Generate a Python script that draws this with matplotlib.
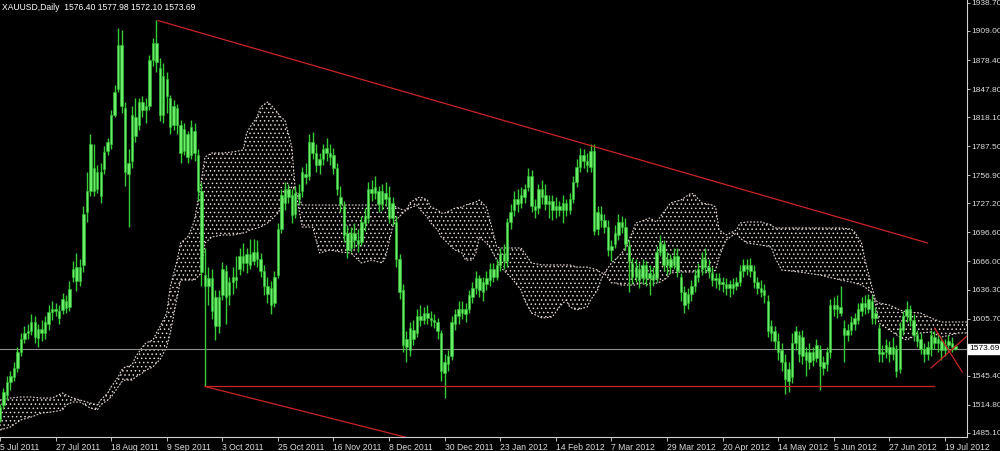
import matplotlib
matplotlib.use("Agg")
import matplotlib.pyplot as plt
import numpy as np

plt.rcParams["font.family"] = ["Liberation Sans", "DejaVu Sans"]
plt.rcParams["hatch.color"] = "#eadbd5"
plt.rcParams["hatch.linewidth"] = 0.55

symbol_title = "XAUUSD,Daily  1576.40 1577.98 1572.10 1573.69"
last_price = 1573.69

# x labels every 16 daily bars (MT4 style)
date_labels = ["5 Jul 2011", "27 Jul 2011", "18 Aug 2011", "9 Sep 2011", "3 Oct 2011",
               "25 Oct 2011", "16 Nov 2011", "8 Dec 2011", "30 Dec 2011", "23 Jan 2012",
               "14 Feb 2012", "7 Mar 2012", "29 Mar 2012", "20 Apr 2012", "14 May 2012",
               "5 Jun 2012", "27 Jun 2012", "19 Jul 2012"]
price_ticks = [1938.70, 1909.00, 1878.40, 1847.80, 1818.10, 1787.50, 1756.90, 1727.20,
               1696.60, 1666.00, 1636.30, 1605.70, 1545.40, 1514.80, 1485.10]

# daily OHLC, 5 Jul 2011 .. 24 Jul 2012
opens = [
    1500, 1514, 1525, 1539, 1544, 1553, 1570, 1584, 1590, 1592,
    1602, 1585, 1595, 1590, 1600, 1613, 1616, 1614, 1615, 1624,
    1618, 1650, 1660, 1645, 1662, 1718, 1740, 1765, 1742, 1760,
    1763, 1782, 1790, 1820, 1848, 1894, 1828, 1758, 1772, 1818,
    1810, 1834, 1826, 1830, 1878, 1896, 1870, 1820, 1858, 1838,
    1810, 1828, 1810, 1782, 1800, 1778, 1804, 1778, 1740, 1652,
    1640, 1648, 1628, 1598, 1630, 1656, 1630, 1644, 1650, 1658,
    1672, 1664, 1674, 1666, 1676, 1668, 1656, 1640, 1638, 1622,
    1652, 1700, 1728, 1742, 1736, 1716, 1738, 1740, 1758, 1756,
    1792, 1780, 1768, 1774, 1786, 1780, 1778, 1764, 1734, 1724,
    1696, 1680, 1696, 1688, 1686, 1706, 1712, 1742, 1738, 1740,
    1726, 1738, 1734, 1712, 1708, 1668, 1636, 1576, 1572, 1594,
    1590, 1608, 1604, 1612, 1606, 1604, 1602, 1590, 1548, 1558,
    1566, 1600, 1608, 1616, 1610, 1616, 1628, 1638, 1648, 1634,
    1642, 1646, 1658, 1650, 1662, 1674, 1666, 1708, 1720, 1732,
    1728, 1734, 1744, 1756, 1724, 1722, 1742, 1736, 1726, 1730,
    1720, 1724, 1720, 1728, 1720, 1732, 1750, 1766, 1778, 1772,
    1766, 1782, 1700, 1716, 1710, 1702, 1678, 1684, 1694, 1708,
    1702, 1682, 1664, 1650, 1658, 1648, 1662, 1648, 1652, 1648,
    1676, 1684, 1662, 1668, 1662, 1672, 1650, 1634, 1622, 1632,
    1640, 1650, 1658, 1668, 1660, 1654, 1646, 1648, 1642, 1642,
    1638, 1642, 1640, 1644, 1656, 1662, 1662, 1656, 1644, 1638,
    1636, 1624, 1598, 1592, 1582, 1572, 1560, 1540, 1544, 1580,
    1588, 1566, 1570, 1560, 1570, 1564, 1574, 1554, 1558, 1570,
    1620, 1616, 1618, 1596, 1588, 1594, 1600, 1604, 1614, 1622,
    1616, 1624, 1606, 1596, 1568, 1570, 1576, 1568, 1574, 1552,
    1594, 1608, 1616, 1604, 1588, 1584, 1574, 1568, 1574, 1586,
    1580, 1582, 1572, 1578, 1580, 1576.40]
highs = [
    1516, 1532, 1545, 1550, 1560, 1576, 1590, 1598, 1600, 1610,
    1608, 1600, 1604, 1608, 1620, 1624, 1622, 1620, 1633, 1630,
    1645, 1666, 1675, 1668, 1724, 1760, 1800, 1790, 1768, 1770,
    1788, 1796, 1826, 1852, 1912, 1910, 1834, 1785, 1830, 1838,
    1838, 1840, 1838, 1884, 1902, 1921, 1880, 1875, 1866, 1842,
    1836, 1832, 1815, 1812, 1804, 1815, 1812, 1785, 1750, 1680,
    1660, 1658, 1636, 1636, 1665, 1662, 1650, 1660, 1672, 1680,
    1685, 1680, 1690, 1690, 1688, 1675, 1662, 1650, 1645, 1656,
    1706, 1742, 1750, 1748, 1742, 1745, 1748, 1766, 1770, 1800,
    1802, 1790, 1780, 1790, 1796, 1790, 1786, 1770, 1746, 1730,
    1704, 1702, 1706, 1700, 1714, 1722, 1750, 1752, 1756, 1746,
    1748, 1750, 1745, 1734, 1714, 1674, 1642, 1592, 1602, 1604,
    1616, 1620, 1618, 1620, 1614, 1610, 1606, 1594, 1568, 1572,
    1608, 1616, 1624, 1624, 1622, 1636, 1644, 1656, 1652, 1650,
    1656, 1664, 1664, 1668, 1680, 1684, 1712, 1726, 1740, 1742,
    1744, 1748, 1764, 1762, 1732, 1748, 1752, 1748, 1736, 1736,
    1734, 1730, 1736, 1732, 1738, 1756, 1774, 1786, 1784, 1780,
    1790, 1790, 1724, 1724, 1716, 1710, 1688, 1704, 1716, 1714,
    1712, 1688, 1670, 1668, 1664, 1668, 1666, 1662, 1660, 1682,
    1694, 1688, 1676, 1674, 1680, 1680, 1654, 1640, 1638, 1646,
    1658, 1664, 1676, 1680, 1668, 1660, 1654, 1654, 1650, 1648,
    1646, 1648, 1650, 1662, 1668, 1668, 1670, 1662, 1650, 1646,
    1642, 1630, 1604, 1598, 1590, 1580, 1568, 1560, 1590, 1598,
    1592, 1594, 1576, 1580, 1576, 1584, 1578, 1566, 1576, 1626,
    1628, 1630, 1640, 1604, 1600, 1608, 1612, 1622, 1628, 1630,
    1632, 1630, 1618, 1600, 1578, 1584, 1582, 1586, 1578, 1602,
    1614, 1624, 1620, 1610, 1594, 1590, 1580, 1582, 1594, 1592,
    1590, 1586, 1584, 1588, 1586, 1577.98]
lows = [
    1496, 1510, 1520, 1530, 1540, 1549, 1566, 1580, 1584, 1588,
    1580, 1576, 1582, 1584, 1594, 1604, 1608, 1600, 1610, 1612,
    1614, 1644, 1635, 1640, 1655, 1708, 1735, 1735, 1738, 1728,
    1758, 1778, 1785, 1818, 1845, 1822, 1745, 1702, 1765, 1792,
    1805, 1818, 1812, 1826, 1872, 1866, 1814, 1812, 1822, 1800,
    1805, 1800, 1770, 1778, 1770, 1774, 1772, 1730, 1640, 1534,
    1620, 1605, 1583, 1590, 1625, 1600, 1620, 1632, 1638, 1652,
    1656, 1654, 1658, 1662, 1660, 1650, 1630, 1622, 1610, 1618,
    1648, 1696, 1720, 1728, 1706, 1712, 1725, 1734, 1748, 1752,
    1774, 1760, 1758, 1768, 1772, 1768, 1758, 1736, 1718, 1686,
    1670, 1676, 1680, 1676, 1682, 1698, 1706, 1730, 1732, 1718,
    1720, 1724, 1706, 1704, 1660, 1626, 1570, 1560, 1566, 1578,
    1586, 1598, 1600, 1600, 1598, 1596, 1584, 1540, 1522, 1550,
    1562, 1594, 1600, 1605, 1602, 1612, 1622, 1632, 1628, 1624,
    1636, 1640, 1644, 1646, 1656, 1658, 1660, 1700, 1714, 1718,
    1722, 1728, 1740, 1718, 1712, 1716, 1726, 1720, 1712, 1710,
    1712, 1714, 1706, 1714, 1716, 1728, 1744, 1760, 1764, 1760,
    1760, 1694, 1694, 1702, 1696, 1672, 1666, 1680, 1688, 1696,
    1678, 1634, 1642, 1644, 1638, 1642, 1640, 1630, 1640, 1644,
    1672, 1656, 1652, 1654, 1658, 1650, 1624, 1612, 1616, 1624,
    1634, 1644, 1652, 1654, 1648, 1640, 1638, 1636, 1634, 1630,
    1628, 1632, 1636, 1640, 1650, 1652, 1650, 1638, 1632, 1628,
    1622, 1586, 1582, 1574, 1562, 1550, 1526, 1528, 1538, 1572,
    1560, 1558, 1545, 1552, 1556, 1560, 1530, 1546, 1550, 1564,
    1608, 1606, 1608, 1560, 1582, 1588, 1594, 1600, 1608, 1610,
    1612, 1600, 1600, 1560, 1560, 1564, 1560, 1562, 1544, 1548,
    1588, 1602, 1598, 1582, 1576, 1568, 1560, 1562, 1566, 1574,
    1570, 1562, 1566, 1570, 1570, 1572.10]
closes = [
    1512, 1528, 1539, 1545, 1553, 1570, 1584, 1590, 1592, 1602,
    1586, 1595, 1590, 1602, 1613, 1616, 1614, 1606, 1626, 1617,
    1637, 1658, 1645, 1660, 1716, 1740, 1790, 1740, 1760, 1735,
    1781, 1792, 1820, 1845, 1894, 1830, 1760, 1770, 1820, 1798,
    1834, 1826, 1830, 1878, 1896, 1876, 1820, 1862, 1840, 1808,
    1830, 1810, 1780, 1806, 1776, 1808, 1780, 1740, 1655, 1640,
    1648, 1614, 1598, 1628, 1658, 1628, 1644, 1650, 1646, 1672,
    1664, 1674, 1662, 1676, 1668, 1656, 1640, 1632, 1620, 1650,
    1700, 1736, 1742, 1734, 1715, 1738, 1732, 1760, 1755, 1792,
    1780, 1768, 1774, 1785, 1780, 1776, 1765, 1742, 1726, 1694,
    1678, 1696, 1688, 1684, 1708, 1714, 1742, 1738, 1744, 1726,
    1740, 1732, 1712, 1728, 1668, 1634, 1578, 1584, 1596, 1584,
    1608, 1604, 1612, 1606, 1604, 1602, 1592, 1550, 1560, 1566,
    1602, 1610, 1616, 1612, 1616, 1630, 1638, 1648, 1636, 1644,
    1648, 1658, 1650, 1662, 1674, 1666, 1708, 1718, 1732, 1726,
    1736, 1742, 1756, 1724, 1720, 1742, 1734, 1726, 1730, 1720,
    1724, 1720, 1728, 1720, 1732, 1750, 1766, 1778, 1772, 1768,
    1782, 1698, 1718, 1710, 1702, 1678, 1682, 1696, 1708, 1702,
    1684, 1666, 1650, 1660, 1646, 1662, 1648, 1654, 1646, 1676,
    1686, 1662, 1668, 1660, 1672, 1656, 1634, 1620, 1632, 1640,
    1652, 1658, 1668, 1660, 1656, 1646, 1648, 1642, 1644, 1638,
    1642, 1638, 1644, 1656, 1662, 1658, 1656, 1644, 1638, 1634,
    1630, 1592, 1590, 1582, 1570, 1560, 1542, 1552, 1580, 1592,
    1568, 1586, 1562, 1570, 1562, 1578, 1556, 1560, 1570, 1620,
    1616, 1620, 1612, 1588, 1594, 1602, 1606, 1616, 1622, 1618,
    1626, 1606, 1612, 1568, 1570, 1578, 1568, 1576, 1550, 1596,
    1608, 1616, 1604, 1588, 1582, 1574, 1568, 1576, 1588, 1580,
    1584, 1572, 1578, 1582, 1576, 1573.69]

# Ichimoku cloud edges (upper / lower span), by bar index
cloud_bar = [0, 3, 6, 9, 12, 15, 18, 19, 21, 23,
             26, 28, 29, 31, 32, 34, 35, 36, 38, 39,
             41, 42, 44, 45, 46, 48, 49, 51, 52, 54,
             55, 56, 58, 59, 61, 64, 67, 70, 71, 72,
             74, 75, 77, 78, 80, 81, 82, 84, 85, 87,
             90, 92, 95, 98, 101, 104, 107, 110, 111, 113,
             114, 116, 117, 118, 120, 121, 123, 124, 126, 127,
             128, 130, 131, 133, 134, 136, 137, 138, 140, 141,
             143, 144, 147, 150, 151, 153, 156, 159, 161, 163,
             164, 166, 169, 170, 172, 173, 174, 176, 177, 179,
             180, 182, 183, 184, 187, 189, 190, 192, 193, 196,
             199, 200, 202, 205, 206, 207, 209, 212, 213, 215,
             219, 222, 223, 225, 230, 236, 242, 245, 246, 248,
             249, 251, 252, 253, 256, 259, 261, 265, 268, 271,
             276, 279]
cloud_hi = [1519.7, 1521.8, 1522.9, 1522.9, 1521.8, 1521.8, 1527.1, 1525.0, 1521.8, 1519.7,
            1516.6, 1514.5, 1519.7, 1527.1, 1533.5, 1544.0, 1551.4, 1554.5, 1556.7, 1565.1,
            1575.7, 1579.9, 1583.0, 1590.4, 1596.7, 1611.5, 1638.9, 1667.4, 1685.4, 1691.7,
            1699.1, 1709.6, 1751.8, 1776.1, 1780.3, 1780.3, 1781.4, 1783.5, 1801.4, 1807.7,
            1818.3, 1828.8, 1834.1, 1830.9, 1822.5, 1817.2, 1815.1, 1786.6, 1741.3, 1725.4,
            1725.4, 1725.4, 1725.4, 1725.4, 1725.4, 1725.4, 1725.4, 1725.4, 1725.4, 1725.4,
            1723.3, 1720.2, 1720.2, 1727.6, 1732.8, 1733.9, 1730.7, 1723.3, 1720.2, 1717.0,
            1717.0, 1720.2, 1722.3, 1723.3, 1725.4, 1727.6, 1728.6, 1730.7, 1723.3, 1709.6,
            1681.1, 1680.1, 1680.1, 1680.1, 1674.8, 1664.3, 1662.2, 1662.2, 1662.2, 1662.2,
            1662.2, 1660.0, 1660.0, 1659.0, 1656.9, 1653.7, 1653.7, 1664.3, 1667.4, 1674.8,
            1681.1, 1695.9, 1706.5, 1707.5, 1711.7, 1707.5, 1712.8, 1722.3, 1727.6, 1730.7,
            1738.1, 1736.0, 1727.6, 1725.4, 1723.3, 1699.1, 1693.8, 1699.1, 1706.5, 1707.5,
            1707.5, 1704.4, 1701.2, 1701.2, 1701.2, 1701.2, 1701.2, 1700.1, 1697.0, 1685.4,
            1667.4, 1638.9, 1625.2, 1622.1, 1619.9, 1614.7, 1612.6, 1611.5, 1606.2, 1602.0,
            1602.0, 1602.0]
cloud_lo = [1488.1, 1491.3, 1498.7, 1501.8, 1506.0, 1507.1, 1509.2, 1514.5, 1517.6, 1517.6,
            1511.3, 1509.2, 1514.5, 1519.7, 1522.9, 1533.5, 1538.7, 1540.8, 1540.8, 1544.0,
            1548.2, 1551.4, 1554.5, 1558.8, 1561.9, 1575.7, 1590.4, 1628.4, 1646.3, 1646.3,
            1646.3, 1646.3, 1653.7, 1685.4, 1691.7, 1693.8, 1693.8, 1695.9, 1697.0, 1699.1,
            1701.2, 1702.2, 1706.5, 1709.6, 1717.0, 1723.3, 1733.9, 1744.4, 1741.3, 1702.2,
            1702.2, 1674.8, 1678.0, 1675.9, 1674.8, 1664.3, 1667.4, 1664.3, 1670.6, 1702.2,
            1709.6, 1717.0, 1720.2, 1722.3, 1725.4, 1720.2, 1712.8, 1706.5, 1699.1, 1691.7,
            1688.5, 1681.1, 1678.0, 1674.8, 1667.4, 1667.4, 1674.8, 1691.7, 1685.4, 1681.1,
            1667.4, 1660.0, 1649.5, 1635.8, 1625.2, 1611.5, 1606.2, 1607.3, 1617.8, 1625.2,
            1617.8, 1614.7, 1617.8, 1625.2, 1635.8, 1646.3, 1653.7, 1643.2, 1643.2, 1641.0,
            1641.0, 1641.0, 1641.0, 1643.2, 1641.0, 1643.2, 1644.2, 1648.4, 1653.7, 1654.8,
            1654.8, 1654.8, 1654.8, 1653.7, 1656.9, 1670.6, 1688.5, 1695.9, 1690.6, 1685.4,
            1683.3, 1681.1, 1670.6, 1656.9, 1654.8, 1651.6, 1646.3, 1644.2, 1643.2, 1641.0,
            1638.9, 1632.6, 1622.1, 1601.0, 1593.6, 1586.2, 1583.0, 1590.4, 1591.5, 1586.2,
            1590.4, 1590.4]

# hand drawn trend lines (bar index, price)
resist_x, resist_y = [45.5, 267], [1920.0, 1685.4]
support_x, support_y = [59, 269], [1534.0, 1534.0]
lowline_x, lowline_y = [59, 120], [1534.0, 1477.5]
cross1_x, cross1_y = [268, 278.4], [1553.5, 1587.3]
cross2_x, cross2_y = [269, 277], [1595.7, 1549.3]

fig = plt.figure(figsize=(10, 4.51), dpi=100, facecolor="black")
ax = fig.add_axes([0, 14 / 451, 0.967, 437 / 451])
ax.set_facecolor("black")

# cloud
ax.fill_between(cloud_bar, cloud_lo, cloud_hi, facecolor="none", edgecolor="#eadbd5",
                hatch="....", linewidth=0, zorder=1)
ax.plot(cloud_bar, cloud_hi, color="#eadbd5", lw=0.8, ls=(0, (1.5, 1.5)), zorder=2)
ax.plot(cloud_bar, cloud_lo, color="#eadbd5", lw=0.8, ls=(0, (1.5, 1.5)), zorder=2)

# candles
x = np.arange(len(closes))
o = np.array(opens)
c = np.array(closes)
ax.vlines(x, lows, highs, color="#36cc36", lw=1.0, zorder=3)
body_lo = np.minimum(o, c)
body_h = np.maximum(np.abs(c - o), 0.8)
ax.bar(x, body_h, bottom=body_lo, width=0.7, color="#6aee6a", edgecolor="#2fbf2f",
       lw=0.4, zorder=4)

# lines
ax.axhline(last_price, color="#8e8e8e", lw=0.8, zorder=2)
for lx, ly in [(resist_x, resist_y), (support_x, support_y), (lowline_x, lowline_y),
               (cross1_x, cross1_y), (cross2_x, cross2_y)]:
    ax.plot(lx, ly, color="#cc2424", lw=0.9, zorder=5)

ax.set_xlim(0.49, 278.36)
ax.set_ylim(1480.7, 1941.7)

for s in ["top", "left"]:
    ax.spines[s].set_visible(False)
for s in ["right", "bottom"]:
    ax.spines[s].set_color("#d0d0d0")
    ax.spines[s].set_linewidth(0.8)

ax.yaxis.tick_right()
ax.set_yticks(price_ticks)
ax.set_yticklabels(["%.2f" % p for p in price_ticks])
ax.tick_params(axis="y", colors="#dcdcdc", labelsize=6.0, length=2, width=0.6, pad=1)
ax.set_xticks(np.arange(len(date_labels)) * 16)
ax.set_xticklabels(date_labels, ha="left")
ax.tick_params(axis="x", colors="#dcdcdc", labelsize=6.2, length=3, width=0.6, pad=1)

ax.text(1.002, last_price, "%.2f" % last_price, transform=ax.get_yaxis_transform(),
        ha="left", va="center", fontsize=6.0, color="black", clip_on=False,
        bbox=dict(boxstyle="square,pad=0.15", fc="white", ec="white"))
fig.text(0.002, 1 - 7 / 451, symbol_title, color="white", fontsize=6.2, ha="left", va="center")

fig.savefig("out.png", dpi=100, facecolor="black")
